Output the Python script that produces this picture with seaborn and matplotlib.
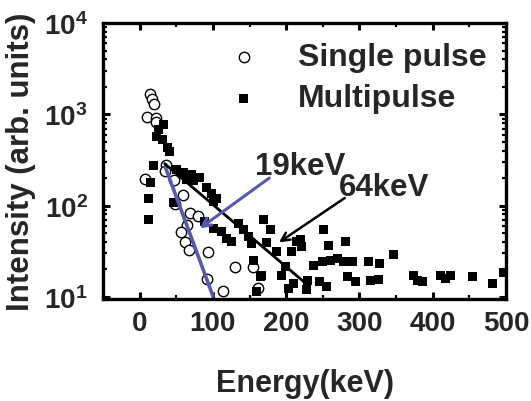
import matplotlib
matplotlib.use("Agg")
import matplotlib.pyplot as plt
import seaborn as sns
import pandas as pd
from matplotlib.ticker import MultipleLocator, LogLocator, NullFormatter

# ---------------------------------------------------------
# data
# ---------------------------------------------------------
single_energy = [13.7, 17.4, 19.6, 10.0, 22.9, 22.9, 35.6, 34.2, 6.8, 47.3,
                 59.3, 48.6, 68.5, 80.0, 64.4, 55.8, 61.6, 67.5, 93.6, 130.1,
                 154.4, 91.4, 113.3, 161.4]
single_intensity = [1656, 1485, 1285, 941, 918, 835, 281, 241, 197, 192,
                    131, 105, 82.7, 77.2, 61.5, 51.9, 40.3, 32.6, 31.3, 21.4,
                    21.0, 15.5, 11.6, 12.4]

multi_energy = [31.9, 25.1, 22.9, 31.1, 37.4, 40.1, 19.2, 50.3, 59.3, 70.8,
                82.2, 14.7, 12.7, 11.4, 45.9, 64.0, 74.0, 91.4, 98.2, 105.1,
                100.4, 89.0, 100.4, 111.9, 118.8, 125.6, 134.7, 141.5, 148.4, 153.0,
                168.9, 178.1, 155.2, 164.4, 159.9, 251.1, 280.8, 219.2, 173.6, 187.3,
                214.7, 221.5, 207.8, 258.0, 347.0, 198.6, 194.1, 210.0, 203.2, 228.4,
                227.4, 245.6, 254.8, 237.4, 248.9, 260.3, 269.5, 278.5, 290.0, 312.7,
                327.8, 283.2, 294.5, 315.1, 326.4, 373.6, 379.0, 385.9, 411.0, 417.8,
                424.7, 454.4, 481.8, 166.7, 497.0]
multi_intensity = [774, 682, 575, 530, 429, 394, 274, 251, 228, 218,
                   202, 177, 121, 70.7, 109, 192, 187, 159, 137, 121,
                   111, 66.8, 56.5, 51.9, 43.9, 40.3, 64.2, 54.2, 45.7, 38.7,
                   69.8, 54.2, 25.3, 16.6, 11.4, 54.2, 40.3, 42.1, 39.3, 31.3,
                   40.3, 35.5, 31.3, 36.1, 28.8, 21.4, 17.3, 14.0, 12.4, 15.3,
                   11.9, 14.6, 12.9, 22.3, 24.3, 25.3, 26.4, 24.3, 24.3, 24.3,
                   23.3, 16.6, 14.6, 15.3, 15.5, 17.3, 15.3, 14.6, 17.3, 15.9,
                   17.3, 16.6, 14.0, 17.3, 18.5]

# exponential fits (end points)
fit19_energy = [35.0, 100.0]
fit19_intensity = [265, 10.2]
fit64_energy = [34.2, 226.0]
fit64_intensity = [288, 14.2]

# arrows: (tail, head)
arrow19 = [(180.0, 209.0), (79.0, 54.0)]
arrow64 = [(283.0, 126.0), (187.0, 38.0)]
label19 = (219.0, 274.0)
label64 = (333.0, 161.0)

x_ticks = [0, 100, 200, 300, 400, 500]

# ---------------------------------------------------------
sns.set_theme(style="ticks")
plt.rcParams.update({
    'font.family': ['Liberation Sans', 'DejaVu Sans'],
    'font.weight': 'bold',
    'axes.labelweight': 'bold',
    'mathtext.fontset': 'custom',
    'mathtext.rm': 'Liberation Sans:bold',
    'mathtext.it': 'Liberation Sans:bold',
    'mathtext.bf': 'Liberation Sans:bold',
})

df_single = pd.DataFrame({'Energy': single_energy, 'Intensity': single_intensity})
df_multi = pd.DataFrame({'Energy': multi_energy, 'Intensity': multi_intensity})

fig = plt.figure(figsize=(5.31, 4.02), dpi=100)
ax = fig.add_axes([0.194, 0.254, 0.759, 0.686])

sns.scatterplot(data=df_single, x='Energy', y='Intensity', marker='o', s=56,
                facecolor='white', edgecolor='black', linewidth=1.0,
                label='Single pulse', ax=ax, zorder=2)
sns.scatterplot(data=df_multi, x='Energy', y='Intensity', marker='s', s=42,
                color='black', edgecolor='none', linewidth=0,
                label='Multipulse', ax=ax, zorder=3)

ax.plot(fit19_energy, fit19_intensity, color='#5858b0', lw=2.6, zorder=4)
ax.plot(fit64_energy, fit64_intensity, color='black', lw=2.0, zorder=4)

ax.annotate('', xy=arrow19[1], xytext=arrow19[0],
            arrowprops=dict(arrowstyle='->,head_length=0.5,head_width=0.25',
                            color='#5858b0', lw=2.2), zorder=5)
ax.annotate('', xy=arrow64[1], xytext=arrow64[0],
            arrowprops=dict(arrowstyle='->,head_length=0.5,head_width=0.25',
                            color='black', lw=1.8), zorder=5)
ax.text(*label19, '19keV', fontsize=22.5, fontweight='bold', ha='center', va='center')
ax.text(*label64, '64keV', fontsize=22.5, fontweight='bold', ha='center', va='center')

ax.set_yscale('log')
ax.set_xlim(-50, 500)
ax.set_ylim(9.5, 1e4)
ax.set_xticks(x_ticks)
ax.xaxis.set_minor_locator(MultipleLocator(50))
ax.yaxis.set_major_locator(LogLocator(base=10, numticks=10))
ax.yaxis.set_minor_locator(LogLocator(base=10, subs=range(2, 10), numticks=20))
ax.yaxis.set_minor_formatter(NullFormatter())

ax.tick_params(which='both', direction='in', top=True, right=True, color='black')
ax.tick_params(which='major', length=5, width=2.2, labelsize=20)
ax.tick_params(axis='x', which='major', pad=8)
ax.tick_params(axis='y', which='major', pad=11)
ax.tick_params(which='minor', length=3, width=1.6)
for sp in ax.spines.values():
    sp.set_linewidth(2.4)
    sp.set_color('black')

ax.set_xlabel('Energy(keV)', fontsize=22, fontweight='bold', labelpad=23)
ax.set_ylabel('Intensity (arb. units)', fontsize=22.5, fontweight='bold', labelpad=6)

leg = ax.legend(loc='upper right', bbox_to_anchor=(1.0, 1.0), frameon=False,
                fontsize=23, handlelength=1.0, handletextpad=1.2,
                labelspacing=0.35, borderaxespad=0.2, markerscale=1.0)

fig.savefig('out.png', dpi=100)
